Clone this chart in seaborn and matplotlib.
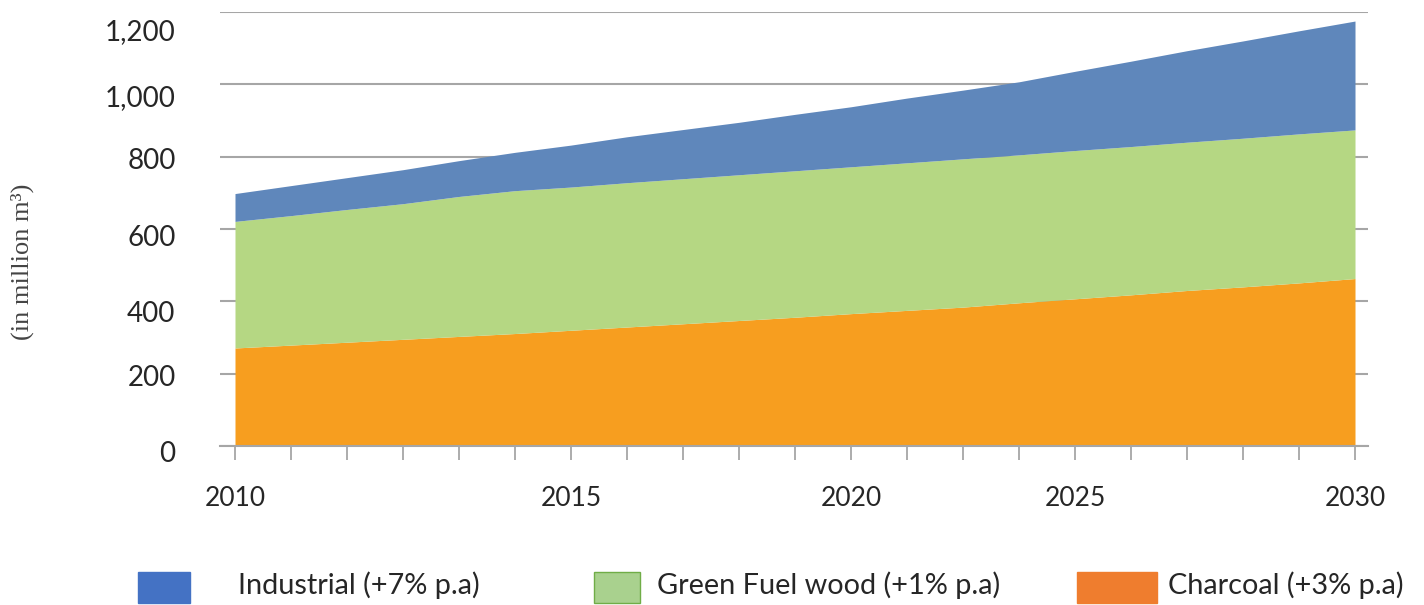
import numpy as np
import matplotlib
matplotlib.use("Agg")
import matplotlib.pyplot as plt
from matplotlib.patches import Rectangle
from matplotlib.transforms import ScaledTranslation
import seaborn as sns

# Yearly wood demand, million m3 (stacked components)
years = list(range(2010, 2031))
charcoal = [271, 279, 287, 295, 303, 311, 320, 329, 338, 347, 356,
            366, 375, 384, 396, 407, 418, 430, 440, 451, 463]
green_fuel_wood = [350, 358, 367, 375, 387, 395, 396, 399, 401, 403, 405,
                   406, 408, 410, 409, 410, 410, 410, 411, 412, 411]
industrial = [77, 83, 88, 94, 99, 106, 116, 127, 136, 145, 156,
              166, 179, 190, 202, 219, 236, 253, 269, 285, 301]

x_tick_labels = ["2010", "2015", "2020", "2025", "2030"]
x_label_slots = [0, 6, 11, 15, 20]
y_ticks = [0, 200, 400, 600, 800, 1000, 1200]

legend_labels = ["Industrial (+7% p.a)", "Green Fuel wood (+1% p.a)", "Charcoal (+3% p.a)"]

sns.set_theme(style="white")
plt.rcParams["font.family"] = ["Lato", "DejaVu Sans"]

area_colors = {"charcoal": "#f79e1f", "green": "#b5d783", "industrial": "#5f87bb"}
grid_col = "#a6a6a6"
text_col = "#262626"

fig = plt.figure(figsize=(14.24, 6.05), dpi=100)
ax = fig.add_axes([220 / 1424, 1 - 446 / 605, (1368 - 220) / 1424, (446 - 12) / 605])

x = np.arange(len(years))
ax.stackplot(x, charcoal, green_fuel_wood, industrial,
             colors=[area_colors["charcoal"], area_colors["green"], area_colors["industrial"]],
             linewidth=0, zorder=2)

ax.set_xlim(-15 / 56, 20 + 13 / 56)
ax.set_ylim(0, 1200)

# horizontal gridlines
ax.set_yticks(y_ticks)
ax.set_yticklabels([f"{v:,}" for v in y_ticks], fontsize=20, color=text_col)
ax.yaxis.grid(True, color=grid_col, linewidth=1.5, zorder=1)
ax.set_axisbelow(True)
ax.tick_params(axis="y", length=0, pad=32)

# value labels sit a little below their gridlines (pixels)
y_label_drop = [6, 2, 10, 7, 2, 11, 18]
for lab, dy in zip(ax.get_yticklabels(), y_label_drop):
    lab.set_transform(lab.get_transform() + ScaledTranslation(0, -dy / 100, fig.dpi_scale_trans))

# x axis: ticks at every year, labels at selected slots
ax.set_xticks(x, minor=True)
ax.set_xticks(x_label_slots)
ax.set_xticklabels(x_tick_labels, fontsize=19, color=text_col)
ax.tick_params(axis="x", which="both", length=10, width=1.3, color=grid_col,
               direction="out", bottom=True)
ax.tick_params(axis="x", which="major", pad=19)

sns.despine(ax=ax, left=True, top=True, right=True)
ax.spines["bottom"].set_color(grid_col)
ax.spines["bottom"].set_linewidth(1.5)
ax.spines["bottom"].set_zorder(3)

fig.text(22 / 1424, 1 - 262 / 605, "(in million m\u00b3)", rotation=90,
         ha="center", va="center", fontsize=19, color="#444444",
         family=["Liberation Serif", "DejaVu Serif"])

# legend row along the bottom
swatches = [
    (138, 190, "#4472c4", "#4472c4", 238),
    (594, 640, "#a9d18e", "#70ad47", 657),
    (1077, 1157, "#ef7d2e", "#ef7d2e", 1168),
]
for (x0, x1, fc, ec, tx), lab in zip(swatches, legend_labels):
    fig.patches.append(Rectangle((x0 / 1424, 1 - 603 / 605), (x1 - x0) / 1424, 31 / 605,
                                 transform=fig.transFigure, facecolor=fc,
                                 edgecolor=ec, linewidth=1))
    fig.text(tx / 1424, 1 - 585 / 605, lab, ha="left", va="center",
             fontsize=20.8, color=text_col)

fig.savefig("out.png", dpi=100)
